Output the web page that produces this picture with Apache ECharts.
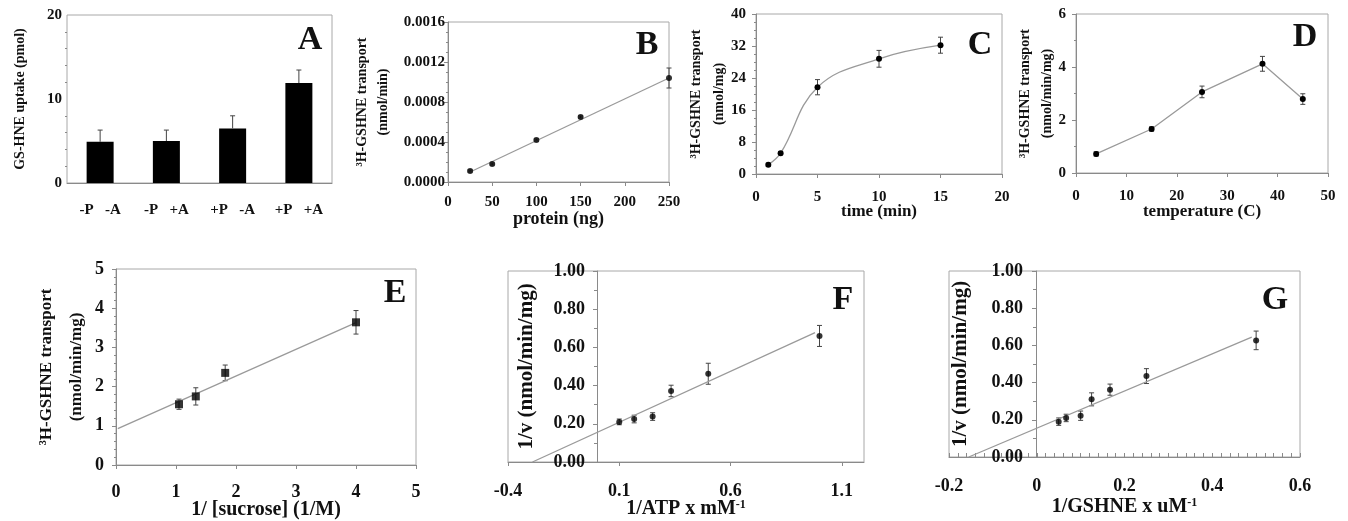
<!DOCTYPE html>
<html>
<head>
<meta charset="utf-8">
<script src="https://cdn.jsdelivr.net/npm/echarts@6/dist/echarts.min.js"></script>
<style>
  html, body { margin: 0; padding: 0; background: #fff; }
  #main { width: 1348px; height: 521px; }
</style>
</head>
<body>
<div id="main"></div>
<script>
// values
const aCats = ['-P   -A', '-P   +A', '+P   -A', '+P   +A'];
const aUptake = [4.9, 5.0, 6.5, 11.9];
const aErr = [1.4, 1.3, 1.5, 1.55];

const bProtein = [25, 50, 100, 150, 250];
const bRate = [0.00011, 0.00018, 0.00042, 0.00065, 0.00104];
const bErr = [0.00001, 0.00001, 0.00001, 0.00001, 0.0001];
const bFitX = [25, 250];
const bFitY = [0.0001, 0.00104];

const cTime = [1, 2, 5, 10, 15];
const cTransport = [2.3, 5.2, 21.7, 28.8, 32.2];
const cErr = [0.4, 0.4, 1.9, 2.1, 2.0];

const dTemp = [4, 15, 25, 37, 45];
const dTransport = [0.72, 1.66, 3.06, 4.12, 2.79];
const dErr = [0.08, 0.08, 0.22, 0.28, 0.2];

const eSucrose = [1.05, 1.33, 1.82, 4.0];
const eTransport = [1.55, 1.75, 2.35, 3.64];
const eErr = [0.13, 0.22, 0.2, 0.3];
const eFitX = [0.03, 4.0];
const eFitY = [0.93, 3.63];

const fAtp = [0.1, 0.167, 0.25, 0.333, 0.5, 1.0];
const fInvV = [0.21, 0.225, 0.238, 0.372, 0.462, 0.66];
const fErr = [0.015, 0.02, 0.02, 0.03, 0.055, 0.055];
const fFitX = [-0.29, 0.98];
const fFitY = [0, 0.677];

const gGshne = [0.05, 0.067, 0.1, 0.125, 0.167, 0.25, 0.5];
const gInvV = [0.19, 0.21, 0.222, 0.31, 0.362, 0.435, 0.627];
const gErr = [0.02, 0.02, 0.025, 0.035, 0.03, 0.04, 0.05];
const gFitX = [-0.155, 0.49];
const gFitY = [0, 0.645];

const FONT = 'Liberation Serif';
const AXIS_C = '#8a8a8a';

function zip(xs, ys) { return xs.map((x, i) => [x, ys[i]]); }

// error bars: [x, low, high]
function errSeries(idx, xs, ys, es, upOnly) {
  return {
    type: 'custom', xAxisIndex: idx, yAxisIndex: idx, z: 3,
    encode: { x: 0, y: [1, 2] },
    data: xs.map((x, i) => [x, upOnly ? ys[i] : ys[i] - es[i], ys[i] + es[i]]),
    renderItem: function (params, api) {
      const lo = api.coord([api.value(0), api.value(1)]);
      const hi = api.coord([api.value(0), api.value(2)]);
      const w = 2.5;
      const st = { stroke: '#444', lineWidth: 1 };
      const kids = [
        { type: 'line', shape: { x1: lo[0], y1: lo[1], x2: hi[0], y2: hi[1] }, style: st },
        { type: 'line', shape: { x1: hi[0] - w, y1: hi[1], x2: hi[0] + w, y2: hi[1] }, style: st }
      ];
      if (!upOnly) kids.push({ type: 'line', shape: { x1: lo[0] - w, y1: lo[1], x2: lo[0] + w, y2: lo[1] }, style: st });
      return { type: 'group', children: kids };
    }
  };
}

function valAxis(idx, o, big) {
  const fs = big ? 18 : 15;
  const base = {
    type: 'value', gridIndex: idx,
    splitLine: { show: false },
    axisLine: { lineStyle: { color: AXIS_C } },
    axisTick: { lineStyle: { color: AXIS_C }, length: 4 },
    minorTick: { lineStyle: { color: AXIS_C }, length: 2 },
    axisLabel: { color: '#111', fontFamily: FONT, fontWeight: 'bold', fontSize: fs },
    nameLocation: 'middle',
    nameMoveOverlap: false,
    nameTextStyle: { color: '#111', fontFamily: FONT, fontWeight: 'bold', fontSize: big ? 17 : 14 }
  };
  const out = Object.assign({}, base, o);
  if (o.axisLabel) out.axisLabel = Object.assign({}, base.axisLabel, o.axisLabel);
  if (o.nameTextStyle) out.nameTextStyle = Object.assign({}, base.nameTextStyle, o.nameTextStyle);
  return out;
}

const supRich = { sup: { fontSize: 12, fontFamily: FONT, fontWeight: 'bold', color: '#111', verticalAlign: 'top' } };

const grids = [
  { left: 67, top: 15, width: 265, height: 168 },
  { left: 448, top: 22, width: 221, height: 160 },
  { left: 756, top: 14, width: 246, height: 160 },
  { left: 1076, top: 14, width: 252, height: 159 },
  { left: 116, top: 269, width: 300, height: 197 },
  { left: 508, top: 271, width: 356, height: 191 },
  { left: 949, top: 271, width: 351, height: 186 }
].map(g => Object.assign({ show: true, borderColor: '#a8a8a8', borderWidth: 1, containLabel: false }, g));

const xAxes = [
  {
    type: 'category', gridIndex: 0, data: aCats,
    axisLine: { lineStyle: { color: AXIS_C } },
    axisTick: { lineStyle: { color: AXIS_C }, length: 4 },
    axisLabel: { color: '#111', fontFamily: FONT, fontWeight: 'bold', fontSize: 15, margin: 20 }
  },
  valAxis(1, { min: 0, max: 250, interval: 50, name: 'protein (ng)', nameGap: 28, nameTextStyle: { fontSize: 18 }, axisLabel: { margin: 13 } }),
  valAxis(2, { min: 0, max: 20, interval: 5, name: 'time (min)', nameGap: 29, nameTextStyle: { fontSize: 17 }, axisLabel: { margin: 16 } }),
  valAxis(3, { min: 0, max: 50, interval: 10, name: 'temperature (C)', nameGap: 30, nameTextStyle: { fontSize: 17 }, axisLabel: { margin: 16 } }),
  valAxis(4, { min: 0, max: 5, interval: 1, name: '1/ [sucrose] (1/M)', nameGap: 35, nameTextStyle: { fontSize: 20 }, axisLabel: { margin: 18 } }, true),
  valAxis(5, {
    min: -0.4, max: 1.2, interval: 0.5, name: '1/ATP x mM{sup|-1}', nameGap: 37,
    nameTextStyle: { fontSize: 20, rich: supRich },
    axisLabel: { margin: 20, showMaxLabel: false, formatter: v => String(Math.round(v * 10) / 10) }
  }, true),
  valAxis(6, {
    min: -0.2, max: 0.6, interval: 0.2, name: '1/GSHNE x uM{sup|-1}', nameGap: 40,
    nameTextStyle: { fontSize: 20, rich: supRich },
    axisTick: { lineStyle: { color: AXIS_C }, length: 4, inside: true },
    minorTick: { show: true, splitNumber: 10, lineStyle: { color: AXIS_C }, length: 4 },
    axisLabel: { margin: 20, formatter: v => String(Math.round(v * 10) / 10) }
  }, true)
];

const yAxes = [
  valAxis(0, {
    min: 0, max: 20, interval: 10, name: 'GS-HNE uptake (pmol)', nameGap: 40,
    minorTick: { show: true, splitNumber: 5, lineStyle: { color: AXIS_C }, length: 2 },
    axisLabel: { margin: 5 }
  }),
  valAxis(1, {
    min: 0, max: 0.0016, interval: 0.0004, name: '³H-GSHNE transport\n(nmol/min)', nameGap: 54,
    nameTextStyle: { lineHeight: 21 },
    minorTick: { show: true, splitNumber: 4, lineStyle: { color: AXIS_C }, length: 2 },
    axisLabel: { margin: 3, formatter: v => v.toFixed(4) }
  }),
  valAxis(2, {
    min: 0, max: 40, interval: 8, name: '³H-GSHNE transport\n(nmol/mg)', nameGap: 25,
    nameTextStyle: { lineHeight: 23 },
    minorTick: { show: true, splitNumber: 4, lineStyle: { color: AXIS_C }, length: 2 },
    axisLabel: { margin: 10 }
  }),
  valAxis(3, {
    min: 0, max: 6, interval: 2, name: '³H-GSHNE transport\n(nmol/min/mg)', nameGap: 18,
    nameTextStyle: { lineHeight: 22 },
    minorTick: { show: true, splitNumber: 2, lineStyle: { color: AXIS_C }, length: 2 },
    axisLabel: { margin: 10 }
  }),
  valAxis(4, {
    min: 0, max: 5, interval: 1, name: '³H-GSHNE transport\n(nmol/min/mg)', nameGap: 24,
    nameTextStyle: { lineHeight: 30 },
    minorTick: { show: true, splitNumber: 5, lineStyle: { color: AXIS_C }, length: 2 },
    axisLabel: { margin: 12 }
  }, true),
  valAxis(5, {
    min: 0, max: 1, interval: 0.2, name: '1/v (nmol/min/mg)', nameGap: 60,
    offset: -89, axisLine: { onZero: false, lineStyle: { color: AXIS_C } },
    nameTextStyle: { fontSize: 21 },
    minorTick: { show: true, splitNumber: 2, lineStyle: { color: AXIS_C }, length: 3 },
    axisLabel: { margin: 12, formatter: v => v.toFixed(2) }
  }, true),
  valAxis(6, {
    min: 0, max: 1, interval: 0.2, name: '1/v (nmol/min/mg)', nameGap: 65,
    offset: -87, axisLine: { onZero: false, lineStyle: { color: AXIS_C } },
    nameTextStyle: { fontSize: 21 },
    minorTick: { show: true, splitNumber: 2, lineStyle: { color: AXIS_C }, length: 3 },
    axisLabel: { margin: 13, formatter: v => v.toFixed(2) }
  }, true)
];

function fit(idx, xs, ys) {
  return {
    type: 'line', xAxisIndex: idx, yAxisIndex: idx, data: zip(xs, ys),
    showSymbol: false, symbol: 'none', silent: true,
    lineStyle: { color: '#9a9a9a', width: 1.3 }
  };
}
function dots(idx, xs, ys, sym, size) {
  return {
    type: 'scatter', xAxisIndex: idx, yAxisIndex: idx, data: zip(xs, ys),
    symbol: sym || 'circle', symbolSize: size || 6, z: 4,
    itemStyle: { color: '#000' }
  };
}

const series = [
  {
    type: 'bar', xAxisIndex: 0, yAxisIndex: 0, data: aUptake, barWidth: 27,
    itemStyle: { color: '#000' }
  },
  errSeries(0, aCats.map((c, i) => i), aUptake, aErr, true),

  fit(1, bFitX, bFitY),
  dots(1, bProtein, bRate),
  errSeries(1, bProtein, bRate, bErr),

  {
    type: 'line', xAxisIndex: 2, yAxisIndex: 2, data: zip(cTime, cTransport), smooth: 0.4,
    symbol: 'circle', symbolSize: 6, itemStyle: { color: '#000' },
    lineStyle: { color: '#9a9a9a', width: 1.3 }
  },
  errSeries(2, cTime, cTransport, cErr),

  {
    type: 'line', xAxisIndex: 3, yAxisIndex: 3, data: zip(dTemp, dTransport),
    symbol: 'circle', symbolSize: 6, itemStyle: { color: '#000' },
    lineStyle: { color: '#9a9a9a', width: 1.3 }
  },
  errSeries(3, dTemp, dTransport, dErr),

  fit(4, eFitX, eFitY),
  dots(4, eSucrose, eTransport, 'rect', 8),
  errSeries(4, eSucrose, eTransport, eErr),

  fit(5, fFitX, fFitY),
  dots(5, fAtp, fInvV),
  errSeries(5, fAtp, fInvV, fErr),

  fit(6, gFitX, gFitY),
  dots(6, gGshne, gInvV),
  errSeries(6, gGshne, gInvV, gErr)
];

const letters = [['A', 310, 40], ['B', 647, 45], ['C', 980, 45], ['D', 1305, 37], ['E', 395, 293], ['F', 843, 300], ['G', 1275, 300]];

const chart = echarts.init(document.getElementById('main'), null, { renderer: 'canvas' });
chart.setOption({
  backgroundColor: '#fff',
  animation: false,
  grid: grids,
  xAxis: xAxes,
  yAxis: yAxes,
  series: series,
  graphic: letters.map(l => ({
    type: 'text', x: l[1], y: l[2], z: 10,
    style: { text: l[0], fontFamily: FONT, fontWeight: 'bold', fontSize: 34, fill: '#111', align: 'center', verticalAlign: 'middle' }
  }))
});
</script>
</body>
</html>
